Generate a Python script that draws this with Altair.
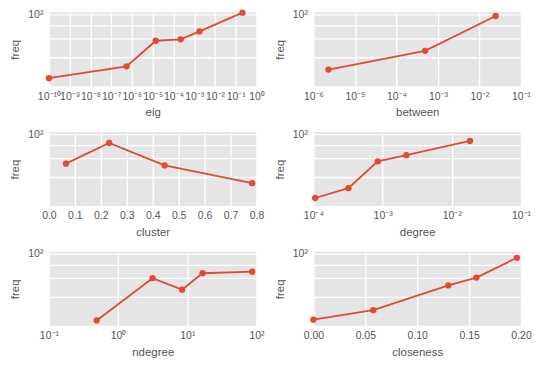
import altair as alt
import pandas as pd

# ---- data ----
eig_x = [1e-10, 5.5e-7, 1.4e-5, 2.2e-4, 1.8e-3, 0.21]
eig_y = [25.8, 33.2, 57.1, 58.9, 69.6, 103.6]
between_x = [2.3e-6, 4.9e-4, 0.0245]
between_y = [31.0, 46.1, 96.5]
cluster_x = [0.0655, 0.232, 0.446, 0.783]
cluster_y = [53.4, 82.8, 51.5, 35.3]
degree_x = [1.06e-4, 3.2e-4, 8.5e-4, 2.2e-3, 0.0183]
degree_y = [25.8, 31.8, 56.0, 64.0, 86.4]
ndegree_x = [0.49, 3.14, 8.4, 16.6, 86.5]
ndegree_y = [24.4, 59.7, 46.8, 66.3, 68.6]
closeness_x = [0.0, 0.0576, 0.130, 0.157, 0.196]
closeness_y = [24.8, 30.3, 51.2, 60.5, 92.0]

y_domain = [21.8, 104.3]
y_ticks = [40, 60, 80, 100]

RED = "#E24A33"
FONT = "Liberation Sans"
W, H = 208, 74

SUP = {"-": "\u207b", "0": "\u2070", "1": "\u00b9", "2": "\u00b2", "3": "\u00b3",
       "4": "\u2074", "5": "\u2075", "6": "\u2076", "7": "\u2077", "8": "\u2078", "9": "\u2079"}


def sup_label(e):
    return "10" + "".join(SUP[c] for c in str(e))


def log_label_expr(exps):
    expr = ""
    for e in exps:
        thr = repr(10.0 ** (e + 0.5))
        expr += f"datum.value < {thr} ? '{sup_label(e)}' : "
    expr += "''"
    return expr


def panel(xs, ys, name, log=True, exps=None, lin_ticks=None, lin_fmt=None, lin_domain=None):
    df = pd.DataFrame({name: xs, "freq": ys})
    if log:
        xscale = alt.Scale(type="log", domain=[10.0 ** exps[0], 10.0 ** exps[-1]], nice=False)
        xaxis = alt.Axis(values=[10.0 ** e for e in exps], labelExpr=log_label_expr(exps),
                         title=name, labelPadding=5, titlePadding=5)
    else:
        xscale = alt.Scale(domain=lin_domain, nice=False, zero=False)
        xaxis = alt.Axis(values=lin_ticks, format=lin_fmt, title=name,
                         labelPadding=5, titlePadding=5)
    yscale = alt.Scale(type="log", domain=y_domain, nice=False)
    yaxis = alt.Axis(values=y_ticks, labelExpr=f"datum.value == 100 ? '{sup_label(2)}' : ''",
                     title="freq", labelPadding=6, titlePadding=7)
    base = alt.Chart(df).encode(
        x=alt.X(f"{name}:Q", scale=xscale, axis=xaxis),
        y=alt.Y("freq:Q", scale=yscale, axis=yaxis),
    )
    line = base.mark_line(color=RED, strokeWidth=1.8)
    pts = base.mark_circle(color=RED, size=40, opacity=1)
    return (line + pts).properties(width=W, height=H)


p1 = panel(eig_x, eig_y, "eig", exps=list(range(-10, 1)))
p2 = panel(between_x, between_y, "between", exps=list(range(-6, 0)))
p3 = panel(cluster_x, cluster_y, "cluster", log=False,
           lin_ticks=[round(i * 0.1, 1) for i in range(9)], lin_fmt=".1f", lin_domain=[0, 0.8])
p4 = panel(degree_x, degree_y, "degree", exps=list(range(-4, 0)))
p5 = panel(ndegree_x, ndegree_y, "ndegree", exps=list(range(-1, 3)))
p6 = panel(closeness_x, closeness_y, "closeness", log=False,
           lin_ticks=[round(i * 0.05, 2) for i in range(5)], lin_fmt=".2f", lin_domain=[0, 0.2])

chart = alt.concat(
    p1, p2, p3, p4, p5, p6, columns=2,
    spacing={"row": 46, "column": 57}, bounds="flush",
).properties(
    padding={"left": 1, "top": 0, "right": 0, "bottom": 0}
).configure_view(
    fill="#E5E5E5", strokeWidth=0
).configure_axis(
    grid=True, gridColor="white", gridWidth=1.3, domain=False, ticks=False,
    labelColor="#555555", titleColor="#555555", labelFont=FONT, titleFont=FONT,
    labelFontSize=10.5, titleFontSize=11.5, titleFontWeight="normal",
    labelOverlap=False, labelFlush=False,
)

chart.save("out.html", embed_options={"renderer": "svg", "actions": False})
